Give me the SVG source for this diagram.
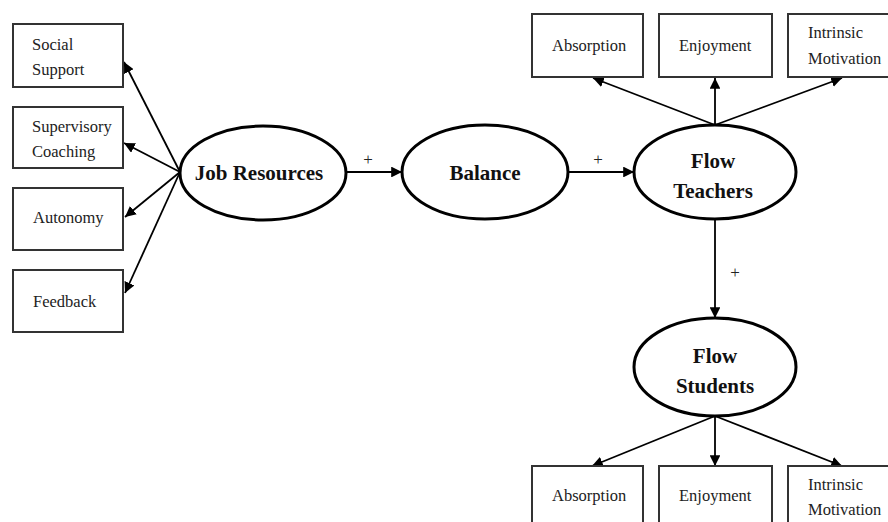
<svg xmlns="http://www.w3.org/2000/svg" width="888" height="522" viewBox="0 0 888 522">
  <defs>
    <marker id="arrow" viewBox="0 0 10 10" refX="10" refY="5" markerWidth="6" markerHeight="6" orient="auto" markerUnits="strokeWidth">
      <path d="M0,0 L10,5 L0,10 z" fill="#000"/>
    </marker>
  </defs>
  <style>
    .box { fill: #fff; stroke: #333; stroke-width: 2; }
    .latent { fill: #fff; stroke: #000; stroke-width: 3; }
    .lbl { font-family: "Liberation Serif", "Times New Roman", serif; font-size: 16.5px; fill: #222; }
    .big { font-family: "Liberation Serif", "Times New Roman", serif; font-size: 21px; font-weight: bold; fill: #111; text-anchor: middle; }
    .sign { font-family: "Liberation Serif", "Times New Roman", serif; font-size: 17px; fill: #222; text-anchor: middle; }
    .edge { stroke: #000; stroke-width: 1.8; fill: none; marker-end: url(#arrow); }
  </style>
  <rect width="888" height="522" fill="#fff"/>

  <!-- connectors -->
  <g id="connectors">
    <line class="edge" x1="180" y1="172" x2="124" y2="62"/>
    <line class="edge" x1="180" y1="172" x2="124" y2="143"/>
    <line class="edge" x1="180" y1="172" x2="125" y2="217"/>
    <line class="edge" x1="180" y1="172" x2="125" y2="293"/>
    <line class="edge" x1="346" y1="172" x2="402" y2="172"/>
    <line class="edge" x1="568" y1="172" x2="634" y2="172"/>
    <line class="edge" x1="715" y1="125" x2="593" y2="78"/>
    <line class="edge" x1="715" y1="125" x2="715" y2="78"/>
    <line class="edge" x1="715" y1="125" x2="842" y2="78"/>
    <line class="edge" x1="715" y1="220" x2="715" y2="318"/>
    <line class="edge" x1="715" y1="416" x2="592" y2="466"/>
    <line class="edge" x1="715" y1="416" x2="715" y2="466"/>
    <line class="edge" x1="715" y1="416" x2="842" y2="466"/>
    <text class="sign" x="368" y="165">+</text>
    <text class="sign" x="598" y="165">+</text>
    <text class="sign" x="735" y="278">+</text>
  </g>

  <!-- indicator boxes: job resources -->
  <g id="social-support">
    <rect class="box" x="13" y="24" width="110" height="63"/>
    <text class="lbl" x="32" y="50">Social</text>
    <text class="lbl" x="32" y="75">Support</text>
  </g>
  <g id="supervisory-coaching">
    <rect class="box" x="13" y="107" width="110" height="61"/>
    <text class="lbl" x="32" y="132">Supervisory</text>
    <text class="lbl" x="32" y="157">Coaching</text>
  </g>
  <g id="autonomy">
    <rect class="box" x="13" y="188" width="110" height="62"/>
    <text class="lbl" x="33" y="223">Autonomy</text>
  </g>
  <g id="feedback">
    <rect class="box" x="13" y="270" width="110" height="62"/>
    <text class="lbl" x="33" y="307">Feedback</text>
  </g>

  <!-- latent variables -->
  <g id="job-resources">
    <ellipse class="latent" cx="263" cy="173" rx="83" ry="47"/>
    <text class="big" x="259" y="180">Job Resources</text>
  </g>
  <g id="balance">
    <ellipse class="latent" cx="485" cy="172" rx="83" ry="47"/>
    <text class="big" x="485" y="180">Balance</text>
  </g>
  <g id="flow-teachers">
    <ellipse class="latent" cx="715" cy="172" rx="81" ry="47"/>
    <text class="big" x="713" y="168">Flow</text>
    <text class="big" x="713" y="198">Teachers</text>
  </g>
  <g id="flow-students">
    <ellipse class="latent" cx="715" cy="367" rx="81" ry="49"/>
    <text class="big" x="715" y="363">Flow</text>
    <text class="big" x="715" y="393">Students</text>
  </g>

  <!-- indicator boxes: flow teachers -->
  <g id="teachers-absorption">
    <rect class="box" x="532" y="14" width="111" height="63"/>
    <text class="lbl" x="552" y="51">Absorption</text>
  </g>
  <g id="teachers-enjoyment">
    <rect class="box" x="659" y="14" width="113" height="63"/>
    <text class="lbl" x="679" y="51">Enjoyment</text>
  </g>
  <g id="teachers-intrinsic-motivation">
    <rect class="box" x="788" y="14" width="110" height="63"/>
    <text class="lbl" x="808" y="38">Intrinsic</text>
    <text class="lbl" x="808" y="64">Motivation</text>
  </g>

  <!-- indicator boxes: flow students -->
  <g id="students-absorption">
    <rect class="box" x="532" y="466" width="111" height="70"/>
    <text class="lbl" x="552" y="501">Absorption</text>
  </g>
  <g id="students-enjoyment">
    <rect class="box" x="659" y="466" width="113" height="70"/>
    <text class="lbl" x="679" y="501">Enjoyment</text>
  </g>
  <g id="students-intrinsic-motivation">
    <rect class="box" x="788" y="466" width="110" height="70"/>
    <text class="lbl" x="808" y="490">Intrinsic</text>
    <text class="lbl" x="808" y="515">Motivation</text>
  </g>
</svg>
